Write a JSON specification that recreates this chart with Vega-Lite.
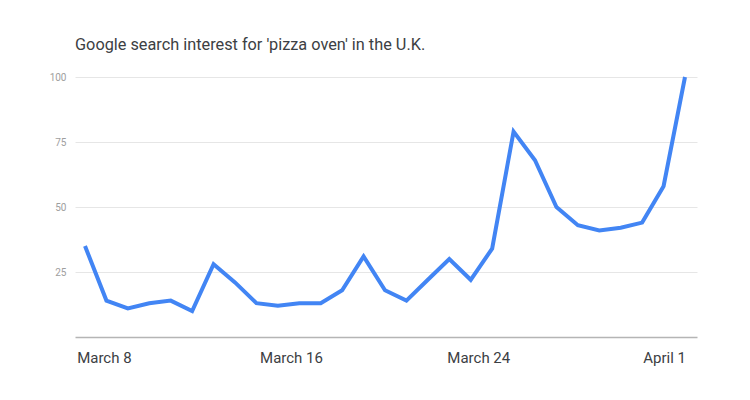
{
  "$schema": "https://vega.github.io/schema/vega-lite/v6.json",
  "width": 622,
  "height": 260,
  "autosize": {"type": "none"},
  "padding": {"left": 75, "top": 77, "right": 53, "bottom": 63},
  "background": "white",
  "config": {"view": {"stroke": null}, "font": "Roboto"},
  "title": {
    "text": "Google search interest for 'pizza oven' in the U.K.",
    "anchor": "start",
    "frame": "group",
    "font": "Roboto",
    "fontSize": 16.3,
    "fontWeight": "normal",
    "color": "#3c4043",
    "baseline": "alphabetic",
    "offset": 3
  },
  "data": {
    "values": [
      {"date": "2020-03-04", "interest": 35},
      {"date": "2020-03-05", "interest": 14},
      {"date": "2020-03-06", "interest": 11},
      {"date": "2020-03-07", "interest": 13},
      {"date": "2020-03-08", "interest": 14},
      {"date": "2020-03-09", "interest": 10},
      {"date": "2020-03-10", "interest": 28},
      {"date": "2020-03-11", "interest": 21},
      {"date": "2020-03-12", "interest": 13},
      {"date": "2020-03-13", "interest": 12},
      {"date": "2020-03-14", "interest": 13},
      {"date": "2020-03-15", "interest": 13},
      {"date": "2020-03-16", "interest": 18},
      {"date": "2020-03-17", "interest": 31},
      {"date": "2020-03-18", "interest": 18},
      {"date": "2020-03-19", "interest": 14},
      {"date": "2020-03-20", "interest": 22},
      {"date": "2020-03-21", "interest": 30},
      {"date": "2020-03-22", "interest": 22},
      {"date": "2020-03-23", "interest": 34},
      {"date": "2020-03-24", "interest": 79},
      {"date": "2020-03-25", "interest": 68},
      {"date": "2020-03-26", "interest": 50},
      {"date": "2020-03-27", "interest": 43},
      {"date": "2020-03-28", "interest": 41},
      {"date": "2020-03-29", "interest": 42},
      {"date": "2020-03-30", "interest": 44},
      {"date": "2020-03-31", "interest": 58},
      {"date": "2020-04-01", "interest": 100}
    ]
  },
  "mark": {"type": "line", "color": "#4285f4", "strokeWidth": 4, "strokeJoin": "miter"},
  "encoding": {
    "x": {
      "field": "date",
      "type": "temporal",
      "scale": {"type": "utc", "domain": [1583239680000, 1585747584000], "nice": false},
      "axis": {
        "title": null,
        "values": [1583356204800, 1584110563200, 1584865699200, 1585615132800],
        "labelExpr": "['March 8','March 16','March 24','April 1'][round(datum.index*3)]",
        "grid": false,
        "ticks": false,
        "domain": true,
        "domainColor": "#b5b5b5",
        "domainWidth": 1.5,
        "labelFont": "Roboto",
        "labelFontSize": 15,
        "labelColor": "#3c4043",
        "labelPadding": 13,
        "labelAlign": "center",
        "labelFlush": false,
        "labelOverlap": false
      }
    },
    "y": {
      "field": "interest",
      "type": "quantitative",
      "scale": {"domain": [0, 100], "nice": false},
      "axis": {
        "title": null,
        "values": [25, 50, 75, 100],
        "domain": false,
        "ticks": false,
        "grid": true,
        "gridColor": "#e6e6e6",
        "gridWidth": 1,
        "labelFont": "Roboto",
        "labelFontSize": 10,
        "labelColor": "#9e9e9e",
        "labelPadding": 9
      }
    }
  }
}
